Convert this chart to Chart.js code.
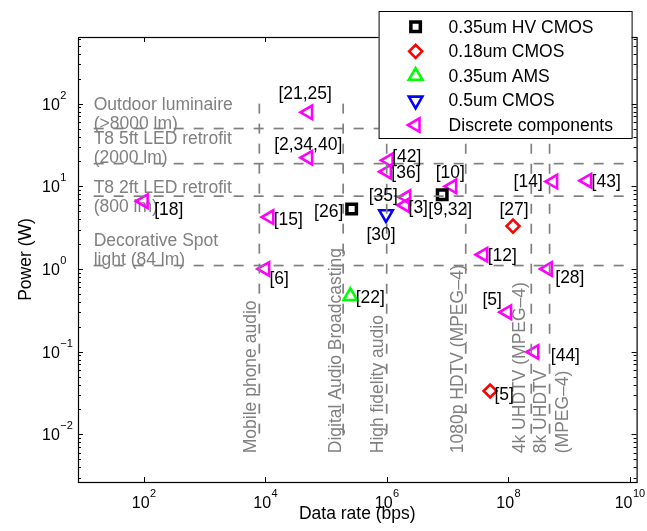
<!DOCTYPE html>
<html>
<head>
<meta charset="utf-8">
<script src="https://cdn.jsdelivr.net/npm/chart.js@4.4.0/dist/chart.umd.min.js"></script>
<style>
  body { margin: 0; background: #fff; }
</style>
</head>
<body>
<canvas id="chartCanvas" width="647" height="531"></canvas>
<script>
// data rate (bps) and power (W) per design
const hvCmosX = [2.65e5, 8.2e6];
const hvCmosY = [5.3, 7.9];
const hvCmosRefs = ["[26]", "[9,32]"];

const cmos018X = [1.2e8, 5.05e7];
const cmos018Y = [3.3, 0.0334];
const cmos018Refs = ["[27]", "[5]"];

const amsX = [2.52e5];
const amsY = [0.47];
const amsRefs = ["[22]"];

const cmos05X = [9.75e5];
const cmos05Y = [4.6];
const cmos05Refs = ["[30]"];

const discreteX = [5.1e4, 5.1e4, 100, 1.17e4, 1.0e4, 1.08e6, 1.01e6, 2.1e6, 2.02e6, 1.2e7, 5.5e8, 2e9, 3.9e7, 4.5e8, 9.6e7, 2.7e8];
const discreteY = [78.5, 22.2, 6.6, 4.25, 1.0, 20.6, 15.0, 7.4, 5.9, 10, 11.4, 11.7, 1.49, 1.0, 0.30, 0.099];
const discreteRefs = ["[21,25]", "[2,34,40]", "[18]", "[15]", "[6]", "[42]", "[36]", "[35]", "[3]", "[10]", "[14]", "[43]", "[12]", "[28]", "[5]", "[44]"];

// lighting power levels (W) and application data rates (bps)
const lightLevels = [50, 18.8, 7.6, 1.1];
const lightNames = [
  ["Outdoor luminaire", "(>8000 lm)"],
  ["T8 5ft LED retrofit", "(2000 lm)"],
  ["T8 2ft LED retrofit", "(800 lm)"],
  ["Decorative Spot", "light (84 lm)"],
];
const lightTextAt = [[15, 84.6], [15, 32.2], [15, 8.3], [15, 1.9]];

const mediaRates = [8e3, 1.92e5, 1e6, 2e7, 2.4e8, 4.8e8];
const mediaNames = [
  ["Mobile phone audio"],
  ["Digital Audio Broadcasting"],
  ["High fidelity audio"],
  ["1080p HDTV (MPEG–4)"],
  ["4k UHDTV (MPEG–4)"],
  ["8k UHDTV", "(MPEG–4)"],
];
const mediaTextAt = [[7.08e3, 0.0059], [1.75e5, 0.0059], [8.8e5, 0.0059], [1.79e7, 0.0059], [1.88e8, 0.0059], [4.26e8, 0.0059]];

const xTickExps = [2, 4, 6, 8, 10];
const yTickExps = [-2, -1, 0, 1, 2];

// label offsets from marker, px
const hvCmosOffs = [[-23, 2], [8, 14]];
const cmos018Offs = [[1, -17], [14, 3]];
const amsOffs = [[20, 1]];
const cmos05Offs = [[-5, 20]];
const discreteOffs = [[-3, -19], [0, -13], [25, 8], [19, 2], [14, 9], [18, -4], [19, 0], [-23, -2], [13, 2], [-2, -14], [-25, 0], [19, 1], [19, 1], [22, 8], [-15, -13], [31, 3]];

const FONT = "'Liberation Sans', Arial, Helvetica, sans-serif";
const GRAY = "#808080";
const TXT = "17.5px " + FONT;

function points(xs, ys) {
  return xs.map((x, i) => ({ x: x, y: ys[i] }));
}

const series = [
  { label: "0.35um HV CMOS", data: points(hvCmosX, hvCmosY), refs: hvCmosRefs, offs: hvCmosOffs,
    color: "#000000", pointStyle: "rect", rotation: 0, radius: 6.7, borderWidth: 3.5 },
  { label: "0.18um CMOS", data: points(cmos018X, cmos018Y), refs: cmos018Refs, offs: cmos018Offs,
    color: "#ff0000", pointStyle: "rectRot", rotation: 0, radius: 6.5, borderWidth: 2.6 },
  { label: "0.35um AMS", data: points(amsX, amsY), refs: amsRefs, offs: amsOffs,
    color: "#00ff00", pointStyle: "triangle", rotation: 0, radius: 7.8, borderWidth: 2.6 },
  { label: "0.5um CMOS", data: points(cmos05X, cmos05Y), refs: cmos05Refs, offs: cmos05Offs,
    color: "#0000ff", pointStyle: "triangle", rotation: 180, radius: 7.8, borderWidth: 2.6 },
  { label: "Discrete components", data: points(discreteX, discreteY), refs: discreteRefs, offs: discreteOffs,
    color: "#ff00ff", pointStyle: "triangle", rotation: 270, radius: 7.8, borderWidth: 2.6 },
];

const guideSets = [];
lightLevels.forEach((p) => {
  guideSets.push({ data: [{ x: 15, y: p }, { x: 1e10, y: p }] });
});
mediaRates.forEach((r) => {
  guideSets.push({ data: [{ x: r, y: 100 }, { x: r, y: 0.008 }] });
});

const datasets = guideSets.map((g) => ({
  data: g.data,
  showLine: true,
  borderColor: GRAY,
  borderWidth: 1.7,
  borderDash: [10, 10],
  pointRadius: 0,
})).concat(series.map((s) => ({
  label: s.label,
  data: s.data,
  refs: s.refs,
  offs: s.offs,
  pointStyle: s.pointStyle,
  rotation: s.rotation,
  pointRadius: s.radius,
  pointBorderWidth: s.borderWidth,
  pointBorderColor: s.color,
  pointBackgroundColor: "rgba(0,0,0,0)",
  borderColor: s.color,
  backgroundColor: "rgba(0,0,0,0)",
})));

function powerOfTen(ctx, exp, x, y, align) {
  const base = "10";
  const sup = exp < 0 ? "\u2212" + (-exp) : String(exp);
  ctx.font = "16px " + FONT;
  const wb = ctx.measureText(base).width;
  ctx.font = "11px " + FONT;
  const ws = ctx.measureText(sup).width;
  let left = x;
  if (align === "center") left = x - (wb + ws) / 2;
  ctx.textAlign = "left";
  ctx.textBaseline = "alphabetic";
  ctx.font = "16px " + FONT;
  ctx.fillText(base, left, y);
  ctx.font = "11px " + FONT;
  ctx.fillText(sup, left + wb + 0.5, y - 11);
}

const annotations = {
  id: "annotations",
  beforeDatasetsDraw(chart) {
    const { ctx, scales } = chart;
    ctx.save();
    ctx.fillStyle = GRAY;
    ctx.font = TXT;
    ctx.textAlign = "left";
    ctx.textBaseline = "alphabetic";
    lightNames.forEach((lines, i) => {
      const px = scales.x.getPixelForValue(lightTextAt[i][0]);
      const py = scales.y.getPixelForValue(lightTextAt[i][1]);
      lines.forEach((t, k) => ctx.fillText(t, px, py + k * 19));
    });
    mediaNames.forEach((lines, i) => {
      const px = scales.x.getPixelForValue(mediaTextAt[i][0]);
      const py = scales.y.getPixelForValue(mediaTextAt[i][1]);
      ctx.save();
      ctx.translate(px, py);
      ctx.rotate(-Math.PI / 2);
      lines.forEach((t, k) => ctx.fillText(t, 0, k * 21.7));
      ctx.restore();
    });
    ctx.restore();
  },
  afterDatasetsDraw(chart) {
    const { ctx } = chart;
    ctx.save();
    ctx.fillStyle = "#000";
    ctx.font = TXT;
    ctx.textAlign = "center";
    ctx.textBaseline = "middle";
    chart.data.datasets.forEach((ds, i) => {
      if (!ds.refs) return;
      const meta = chart.getDatasetMeta(i);
      meta.data.forEach((pt, j) => {
        ctx.fillText(ds.refs[j], pt.x + ds.offs[j][0], pt.y + ds.offs[j][1] + 1);
      });
    });
    ctx.restore();
  },
};

const frame = {
  id: "frame",
  afterDraw(chart) {
    const { ctx, chartArea: a, scales } = chart;
    ctx.save();
    ctx.strokeStyle = "#000";
    ctx.lineWidth = 1.2;
    ctx.strokeRect(a.left + 0.5, a.top + 0.5, a.right - a.left, a.bottom - a.top);
    ctx.lineWidth = 1;
    ctx.beginPath();
    for (let e = -3; e <= 2; e++) {
      for (let m = 1; m <= 9; m++) {
        const v = m * Math.pow(10, e);
        if (v < scales.y.min || v > scales.y.max) continue;
        const py = Math.round(scales.y.getPixelForValue(v)) + 0.5;
        const len = m === 1 ? 5 : 3;
        ctx.moveTo(a.left, py); ctx.lineTo(a.left + len, py);
        ctx.moveTo(a.right, py); ctx.lineTo(a.right - len, py);
      }
    }
    xTickExps.forEach((e) => {
      const px = Math.round(scales.x.getPixelForValue(Math.pow(10, e))) + 0.5;
      ctx.moveTo(px, a.bottom); ctx.lineTo(px, a.bottom - 5);
      ctx.moveTo(px, a.top); ctx.lineTo(px, a.top + 5);
    });
    ctx.stroke();

    ctx.fillStyle = "#000";
    xTickExps.forEach((e) => {
      powerOfTen(ctx, e, scales.x.getPixelForValue(Math.pow(10, e)), a.bottom + 26, "center");
    });
    yTickExps.forEach((e) => {
      powerOfTen(ctx, e, a.left - 36, scales.y.getPixelForValue(Math.pow(10, e)) + 6, "left");
    });

    ctx.font = TXT;
    ctx.textAlign = "center";
    ctx.textBaseline = "alphabetic";
    ctx.fillText("Data rate (bps)", (a.left + a.right) / 2, a.bottom + 37);
    ctx.save();
    ctx.translate(a.left - 47, (a.top + a.bottom) / 2);
    ctx.rotate(-Math.PI / 2);
    ctx.fillText("Power (W)", 0, 0);
    ctx.restore();

    // legend box
    const bw = 253, bh = 127;
    const bx = a.right - 5 - bw, by = a.top - 26;
    ctx.fillStyle = "#fff";
    ctx.fillRect(bx, by, bw, bh);
    ctx.strokeStyle = "#000";
    ctx.lineWidth = 1;
    ctx.strokeRect(bx + 0.5, by + 0.5, bw, bh);
    series.forEach((s, i) => {
      const cy = by + 15.7 + i * 24.6;
      ctx.strokeStyle = s.color;
      ctx.fillStyle = "rgba(0,0,0,0)";
      ctx.lineWidth = s.borderWidth;
      ctx.setLineDash([]);
      Chart.helpers.drawPoint(ctx, { pointStyle: s.pointStyle, rotation: s.rotation, radius: s.radius, borderWidth: s.borderWidth }, bx + 37, cy);
      ctx.fillStyle = "#000";
      ctx.font = TXT;
      ctx.textAlign = "left";
      ctx.textBaseline = "middle";
      ctx.fillText(s.label, bx + 70, cy + 1);
    });
    ctx.restore();
  },
};

const ctx = document.getElementById("chartCanvas").getContext("2d");
new Chart(ctx, {
  type: "scatter",
  data: { datasets: datasets },
  options: {
    responsive: false,
    animation: false,
    layout: { padding: { left: 78, top: 37, right: 6, bottom: 49 } },
    scales: {
      x: { type: "logarithmic", min: Math.pow(10, 0.918), max: Math.pow(10, 10.114), display: false },
      y: { type: "logarithmic", min: Math.pow(10, -2.577), max: Math.pow(10, 2.806), display: false },
    },
    plugins: {
      legend: { display: false },
      tooltip: { enabled: false },
    },
  },
  plugins: [annotations, frame],
});
</script>
</body>
</html>
